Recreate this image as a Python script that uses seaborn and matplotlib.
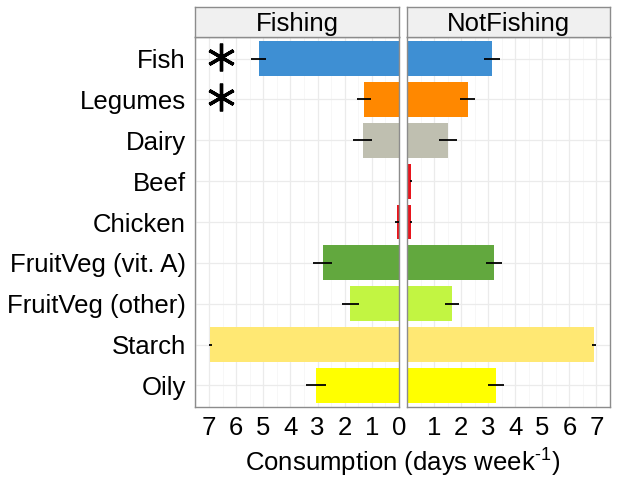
import numpy as np
import pandas as pd
import matplotlib
matplotlib.use("Agg")
import matplotlib.pyplot as plt
import seaborn as sns

# данные
foods = ["Fish", "Legumes", "Dairy", "Beef", "Chicken",
         "FruitVeg (vit. A)", "FruitVeg (other)", "Starch", "Oily"]
fishing = [5.17, 1.30, 1.33, 0.0, 0.08, 2.82, 1.80, 6.95, 3.07]
fishing_se = [0.28, 0.26, 0.35, 0.0, 0.08, 0.35, 0.31, 0.05, 0.37]
notfishing = [3.14, 2.24, 1.51, 0.15, 0.15, 3.21, 1.65, 6.90, 3.30]
notfishing_se = [0.29, 0.27, 0.33, 0.05, 0.05, 0.30, 0.26, 0.08, 0.30]
signif = ["Fish", "Legumes"]  # звездочки в панели Fishing
xticks_l = list(range(8))
xticks_r = list(range(1, 8))

colors = ["#3E8FD3", "#FF8800", "#BFBFB0", "#E8141C", "#E8141C",
          "#62A83E", "#C2F542", "#FFE873", "#FFFF00"]

sns.set_style("white")
plt.rcParams["font.family"] = ["Liberation Sans", "DejaVu Sans"]
plt.rcParams["mathtext.fontset"] = "custom"
plt.rcParams["mathtext.rm"] = "Liberation Sans"
plt.rcParams["text.color"] = "black"
plt.rcParams["xtick.labelcolor"] = "black"
plt.rcParams["ytick.labelcolor"] = "black"

fig = plt.figure(figsize=(6.18, 4.90), dpi=100)
W, H = 618, 490
FS = 18.5


def box(x0, y0, x1, y1):
    return [x0 / W, 1 - y1 / H, (x1 - x0) / W, (y1 - y0) / H]


ax_l = fig.add_axes(box(195, 37, 399, 407))
ax_r = fig.add_axes(box(407, 37, 610, 407))

panels = [(ax_l, fishing, fishing_se, "Fishing", (7.52, 0), xticks_l),
          (ax_r, notfishing, notfishing_se, "NotFishing", (0, 7.49), xticks_r)]

for ax, vals, se, title, xlim, ticks in panels:
    df = pd.DataFrame({"food": foods, "value": vals})
    sns.barplot(data=df, x="value", y="food", hue="food", palette=colors,
                saturation=1, orient="h", width=0.85, errorbar=None,
                legend=False, linewidth=0, ax=ax, zorder=2)
    ax.errorbar(vals, np.arange(len(foods)), xerr=se, fmt="none",
                ecolor="black", elinewidth=1.3, capsize=0, zorder=3)
    ax.set_xlim(*xlim)
    ax.set_ylim(len(foods) - 0.47, -0.53)
    ax.set_xticks(ticks)
    ax.set_xticks(np.arange(0.5, 7.6, 1.0), minor=True)
    ax.grid(True, which="major", color="#EBEBEB", lw=0.9, zorder=0)
    ax.grid(True, which="minor", axis="x", color="#F6F6F6", lw=0.6, zorder=0)
    ax.set_axisbelow(True)
    ax.set_xlabel("")
    ax.set_ylabel("")
    for s in ax.spines.values():
        s.set_color("#8C8C8C")
        s.set_linewidth(1.0)
    ax.tick_params(axis="x", which="major", length=4.5, width=1.0,
                   color="#333333", labelsize=FS, pad=2)
    ax.tick_params(axis="x", which="minor", length=0)

    # полоса с заголовком панели
    pos = ax.get_position()
    sax = fig.add_axes([pos.x0, 1 - 37 / H, pos.width, 30 / H])
    sax.set_facecolor("#F0F0F0")
    sax.set_xticks([])
    sax.set_yticks([])
    for s in sax.spines.values():
        s.set_color("#8C8C8C")
        s.set_linewidth(1.0)
    sax.text(0.5, 0.42, title, ha="center", va="center", fontsize=FS,
             transform=sax.transAxes)

ax_l.tick_params(axis="y", length=4.5, width=1.0, color="#333333",
                 labelsize=FS, pad=2)
ax_r.tick_params(axis="y", left=False, labelleft=False)

sig_y = np.array([foods.index(f) for f in signif]) - 0.05
ax_l.plot([6.58] * len(sig_y), sig_y, ls="none", marker=(6, 2, 0),
          ms=20, mew=2.4, color="black", zorder=4)

fig.text((195 + 610) / 2 / W, 1 - 462 / H,
         r"Consumption (days week$^{\text{-1}}$)",
         ha="center", va="center", fontsize=FS)

fig.savefig("out.png", dpi=100)
